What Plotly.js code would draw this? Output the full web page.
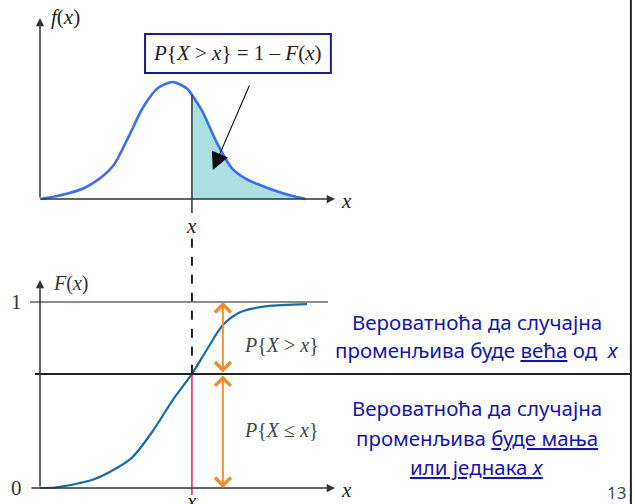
<!DOCTYPE html>
<html>
<head>
<meta charset="utf-8">
<script src="https://cdn.plot.ly/plotly-3.0.1.min.js"></script>
<style>html,body{margin:0;padding:0;background:#fff;}#chart{width:635px;height:504px;}</style>
</head>
<body>
<div id="chart"></div>
<script>
// ---- data ----
const xPdf = [0, 0.5, 1, 1.5, 2, 2.5, 3, 3.5, 4, 4.5, 5, 5.15, 5.5, 6, 6.5, 7, 7.5, 8, 8.5, 9];
const fPdf = [0, 0.014, 0.033, 0.061, 0.110, 0.188, 0.343, 0.508, 0.613, 0.646, 0.608, 0.575, 0.486, 0.309, 0.171, 0.110, 0.075, 0.044, 0.019, 0];
const xCdf = [0, 0.5, 1.5, 2.1, 3.1, 3.8, 4.5, 5.15, 5.65, 6.2, 6.8, 7.7, 9.05];
const FCdf = [0, 0.002, 0.032, 0.065, 0.161, 0.301, 0.473, 0.613, 0.742, 0.876, 0.946, 0.978, 0.989];
const xCut = 5.15;           // the point x
const FCut = 0.613;          // F(x)
const fCut = 0.575;          // f(x)
const xArrowOrange = 6.2;
const yTicks = [0, 1];
const yTickLabels = ['0', '1'];
const formulaTop = '<i>P</i>{<i>X</i> &gt; <i>x</i>} = 1 – <i>F</i>(<i>x</i>)';
const labelGreater = '<i>P</i>{<i>X</i> &gt; <i>x</i>}';
const labelLessEq = '<i>P</i>{<i>X</i> ≤ <i>x</i>}';
const textLines = [
  'Вероватноћа да случајна',
  'променљива буде <u>већа</u> од  <i>x</i>',
  'Вероватноћа да случајна',
  'променљива <u>буде мања</u>',
  '<u>или једнака <i>x</i></u>'
];
const pageNumber = '13';

// ---- layout helpers ----
const PX = 29.5;            // px per x-unit
const serif = 'Liberation Serif, Times New Roman, serif';
const sans = 'Noto Sans, Open Sans, sans-serif';
const blue = '#1515a8';

const fillX = [], fillY = [];
xPdf.forEach((v, i) => { if (v >= xCut) { fillX.push(v); fillY.push(fPdf[i]); } });

const traces = [
  {x: fillX, y: fillY, xaxis: 'x', yaxis: 'y', mode: 'lines', fill: 'tozeroy',
   fillcolor: '#acdfe2', line: {width: 0, shape: 'spline', smoothing: 0.8}, hoverinfo: 'skip'},
  {x: xPdf, y: fPdf, xaxis: 'x', yaxis: 'y', mode: 'lines',
   line: {color: '#3b6ef2', width: 2.6, shape: 'spline', smoothing: 0.8}, hoverinfo: 'skip'},
  {x: xCdf, y: FCdf, xaxis: 'x', yaxis: 'y2', mode: 'lines',
   line: {color: '#1a6aa3', width: 2.2, shape: 'spline', smoothing: 0.8}, hoverinfo: 'skip'}
];

function arrow(x, y, ax, ay, yref, opts) {
  return Object.assign({x: x, y: y, ax: ax, ay: ay, xref: 'x', yref: yref, axref: 'x', ayref: yref,
    text: '', showarrow: true, arrowhead: 2, arrowsize: 1.1, arrowwidth: 1.5, arrowcolor: '#333'}, opts || {});
}
function label(x, y, yref, text, size, color, font, opts) {
  return Object.assign({x: x, y: y, xref: 'x', yref: yref, text: text, showarrow: false,
    font: {family: font || serif, size: size, color: color || '#222'}, xanchor: 'center', yanchor: 'middle'}, opts || {});
}

const orangeOpts = {arrowside: 'end+start', arrowhead: 4, startarrowhead: 4,
  arrowsize: 1.7, startarrowsize: 1.7, arrowwidth: 1.8, arrowcolor: '#f28a2e'};

const annotations = [
  // top axes
  arrow(0, 1.0, 0, 0, 'y'),
  arrow(10, 0, 0, 0, 'y'),
  // bottom axes
  arrow(0, 1.118, 0, 0, 'y2'),
  arrow(10, 0, -0.34, 0, 'y2'),
  // pointer arrow
  arrow(5.86, 0.16, 7.12, 0.635, 'y', {arrowhead: 2, arrowsize: 3.2, arrowwidth: 1.1, arrowcolor: '#111'}),
  // orange double arrows
  arrow(xArrowOrange, 1, xArrowOrange, FCut, 'y2', orangeOpts),
  arrow(xArrowOrange, 0, xArrowOrange, FCut, 'y2', orangeOpts),
  // labels top
  label(0.88, 1.005, 'y', '<i>f</i>(<i>x</i>)', 21, '#222'),
  label(10.4, -0.011, 'y', '<i>x</i>', 21, '#222'),
  label(xCut, -0.149, 'y', '<i>x</i>', 21, '#222'),
  label(6.71, 0.807, 'y', formulaTop, 21, '#222'),
  // labels bottom
  label(1.02, 1.10, 'y2', '<i>F</i>(<i>x</i>)', 20, '#333'),
  label(10.4, -0.011, 'y2', '<i>x</i>', 21, '#222'),
  label(xCut, 0.003, 'y2', '<i>x</i>', 21, '#222', serif, {yanchor: 'top'}),
  label(-0.78, yTicks[0], 'y2', yTickLabels[0], 21, '#333'),
  label(-0.78, yTicks[1], 'y2', yTickLabels[1], 21, '#333'),
  label(8.2, 0.769, 'y2', labelGreater, 20, '#444'),
  label(8.2, 0.312, 'y2', labelLessEq, 20, '#444'),
  // right text
  label(14.81, 0.892, 'y2', textLines[0], 20.5, blue, sans),
  label(14.81, 0.742, 'y2', textLines[1], 20.5, blue, sans),
  label(14.81, 0.430, 'y2', textLines[2], 20.5, blue, sans),
  label(14.81, 0.269, 'y2', textLines[3], 20.5, blue, sans),
  label(14.81, 0.113, 'y2', textLines[4], 20.5, blue, sans),
  label(19.55, -0.022, 'y2', pageNumber, 17, '#3d4670', sans)
];

const shapes = [
  // formula box
  {type: 'rect', xref: 'x', yref: 'y', x0: 3.56, x1: 9.86, y0: 0.696, y1: 0.912,
   line: {color: '#1c1c8c', width: 2}, fillcolor: 'rgba(0,0,0,0)'},
  // top vertical at x
  {type: 'line', xref: 'x', yref: 'y', x0: xCut, x1: xCut, y0: fCut, y1: -0.077, line: {color: '#333', width: 1.5}},
  // dashed from top x label down to F(x)
  {type: 'line', xref: 'x', yref: 'y2', x0: xCut, x1: xCut, y0: 1.34, y1: FCut, line: {color: '#222', width: 2, dash: 'dash'}},
  // pink vertical
  {type: 'line', xref: 'x', yref: 'y2', x0: xCut, x1: xCut, y0: FCut, y1: -0.038, line: {color: '#e8196a', width: 1.5}},
  // line at 1
  {type: 'line', xref: 'x', yref: 'y2', x0: -0.34, x1: 9.76, y0: 1, y1: 1, line: {color: '#666', width: 1.6}},
  // black line at F(x)
  {type: 'line', xref: 'x', yref: 'y2', x0: -0.17, x1: 20.0, y0: FCut, y1: FCut, line: {color: '#222', width: 2}},
  // right edge line
  {type: 'line', xref: 'x', yref: 'paper', x0: 20.03, x1: 20.03, y0: 0, y1: 1, line: {color: '#222', width: 2}}
];

const layout = {
  width: 635, height: 504, margin: {l: 0, r: 0, t: 0, b: 0},
  paper_bgcolor: '#fff', plot_bgcolor: '#fff', showlegend: false,
  xaxis: {range: [-40 / PX, 595 / PX], visible: false, fixedrange: true},
  yaxis: {domain: [0, 1], range: [(199 - 504) / 181, 199 / 181], visible: false, fixedrange: true},
  yaxis2: {domain: [0, 1], range: [(488 - 504) / 186, 488 / 186], overlaying: 'y', visible: false, fixedrange: true},
  annotations: annotations,
  shapes: shapes
};

Plotly.newPlot('chart', traces, layout, {staticPlot: true, displayModeBar: false});
</script>
</body>
</html>
